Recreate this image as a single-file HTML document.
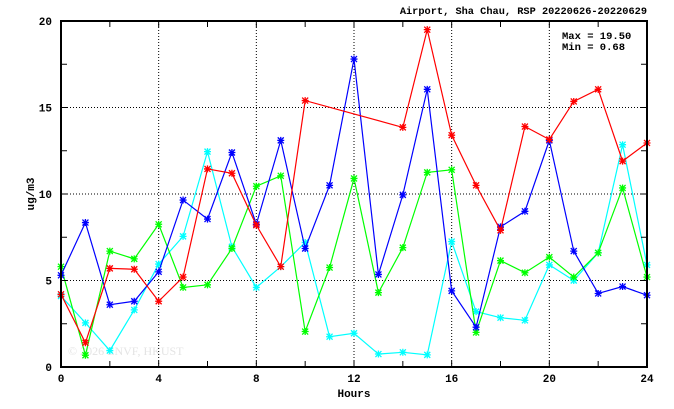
<!DOCTYPE html>
<html><head><meta charset="utf-8"><style>
body{margin:0;background:#fff;width:674px;height:409px;overflow:hidden}
svg{display:block;font-family:"Liberation Mono","DejaVu Sans Mono",monospace;font-weight:bold}
</style></head><body>
<svg id="chart" width="674" height="409">
<text x="647" y="14" text-anchor="end" font-size="10.3">Airport, Sha Chau, RSP 20220626-20220629</text>
<text x="562" y="39" font-size="10.5">Max = 19.50</text>
<text x="562" y="50" font-size="10.5">Min =  0.68</text>
<text x="68" y="355" font-size="12" fill="#e4e4e4" font-family="Liberation Serif,serif" font-weight="normal">© 2026 ENVF, HKUST</text>
<text x="354" y="397" text-anchor="middle" font-size="11">Hours</text>
<text transform="translate(34,194) rotate(-90)" text-anchor="middle" font-size="11">ug/m3</text>
<g id="grid"></g><g id="series"></g><g id="axes"></g>
</svg>
<script>
const hours=[0,1,2,3,4,5,6,7,8,9,10,11,12,13,14,15,16,17,18,19,20,21,22,23,24];
const redSeries=[4.2,1.4,5.7,5.65,3.8,5.2,11.45,11.2,8.2,5.8,15.4,null,null,null,13.85,19.5,13.4,10.5,7.9,13.9,13.15,15.35,16.05,11.9,12.95];
const blueSeries=[5.3,8.35,3.6,3.8,5.5,9.65,8.55,12.4,8.25,13.1,6.85,10.5,17.8,5.35,9.95,16.05,4.4,2.3,8.1,9.0,13.1,6.7,4.25,4.65,4.15];
const greenSeries=[5.8,0.68,6.7,6.25,8.25,4.6,4.75,6.85,10.45,11.05,2.05,5.75,10.9,4.3,6.9,11.25,11.4,2.0,6.15,5.45,6.35,5.2,6.6,10.35,5.2];
const cyanSeries=[4.1,2.55,0.95,3.3,5.95,7.55,12.45,6.95,4.6,5.8,7.2,1.75,1.95,0.75,0.85,0.7,7.25,3.2,2.85,2.7,5.9,5.0,6.6,12.85,5.9];
const xTicks=[0,4,8,12,16,20,24];
const yTicks=[0,5,10,15,20];
const L=61,R=647,T=21,B=367;
const X=h=>L+(R-L)*h/24, Y=v=>B-(B-T)*v/20;
const NS="http://www.w3.org/2000/svg";
function mk(tag,a,p){const e=document.createElementNS(NS,tag);for(const k in a)e.setAttribute(k,a[k]);p.appendChild(e);return e;}
const grid=document.getElementById('grid'),axes=document.getElementById('axes'),ser=document.getElementById('series');
xTicks.forEach(t=>{
 if(t>0&&t<24){const g=mk('line',{x1:X(t),x2:X(t),y1:T,y2:B,stroke:'#000','stroke-dasharray':'1,2','stroke-width':1},grid);
 
 }
 const tx=mk('text',{x:X(t),y:B+15,'text-anchor':'middle','font-size':11},axes);tx.textContent=t;
 
 
});
for(let h=0;h<=24;h+=2){mk('line',{x1:X(h),x2:X(h),y1:T,y2:T+6,stroke:'#000'},axes);mk('line',{x1:X(h),x2:X(h),y1:B,y2:B-6,stroke:'#000'},axes);}
yTicks.forEach(t=>{
 if(t>0&&t<20){const g=mk('line',{x1:L,x2:R,y1:Y(t),y2:Y(t),stroke:'#000','stroke-dasharray':'1,2','stroke-width':1},grid);
 
 }
 const tx=mk('text',{x:L-9,y:Y(t)+4,'text-anchor':'end','font-size':11},axes);tx.textContent=t;
 
 
});
for(let v=0;v<=20;v+=2.5){mk('line',{x1:L,x2:L+6,y1:Y(v),y2:Y(v),stroke:'#000'},axes);mk('line',{x1:R,x2:R-6,y1:Y(v),y2:Y(v),stroke:'#000'},axes);}
const fr=mk('rect',{x:L,y:T,width:R-L,height:B-T,fill:'none',stroke:'#000','stroke-width':2},axes);


function draw(vals,col,name){
 const pts=[];hours.forEach((h,i)=>{if(vals[i]!=null)pts.push([X(h),Y(vals[i])]);});
 const pl=mk('polyline',{points:pts.map(p=>p.join(',')).join(' '),fill:'none',stroke:col,'stroke-width':1.2},ser);
 
 
 pts.forEach(p=>{const g=mk('path',{d:`M${p[0]-3},${p[1]-3}L${p[0]+3},${p[1]+3}M${p[0]-3},${p[1]+3}L${p[0]+3},${p[1]-3}M${p[0]-3.5},${p[1]}L${p[0]+3.5},${p[1]}M${p[0]},${p[1]-3.5}L${p[0]},${p[1]+3.5}`,stroke:col,'stroke-width':1.3},ser);
 
 });
}
draw(cyanSeries,'#00ffff','cyan-series');
draw(greenSeries,'#00ff00','green-series');
draw(blueSeries,'#0000ff','blue-series');
draw(redSeries,'#ff0000','red-series');
</script>
</body></html>
